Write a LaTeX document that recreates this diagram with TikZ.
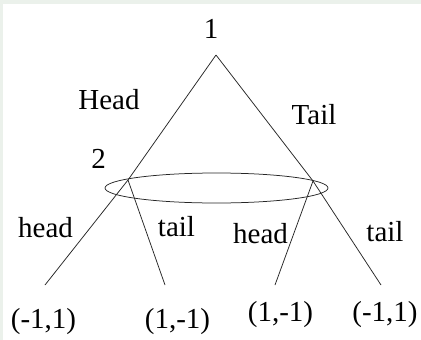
\documentclass[tikz,border=0pt]{standalone}
\usepackage{fontspec}
\setmainfont{Liberation Serif}
\begin{document}
\begin{tikzpicture}[x=1pt,y=-1pt,
  lbl/.style={anchor=base,inner sep=0pt,font=\fontsize{29}{34}\selectfont},
  edge/.style={line width=0.75pt,draw=black!85}]
\useasboundingbox (0,0) rectangle (421,340);
\fill[white] (0,0) rectangle (421,340);
\fill[green!30!black!8!white] (0,0) rectangle (421,4);
\fill[green!30!black!8!white] (0,0) rectangle (3,340);
% decision points
\coordinate (r) at (216,55);
\coordinate (a) at (128,180);
\coordinate (b) at (313,181);
\coordinate (l1) at (45,285);
\coordinate (l2) at (165,285);
\coordinate (l3) at (275,285);
\coordinate (l4) at (381,285);
\coordinate (ec) at (216.5,188);
% labels
\node[lbl] (t1) at (211,38) {1};
\node[lbl] (tH) at (109,109) {Head};
\node[lbl] (tT) at (314,124) {Tail};
\node[lbl] (t2) at (98.5,168) {2};
\node[lbl] (h1) at (45.5,237) {head};
\node[lbl] (s1) at (176.5,236) {tail};
\node[lbl] (h2) at (260.5,243) {head};
\node[lbl] (s2) at (385,241) {tail};
\node[lbl] (p1) at (43.5,328) {(-1,1)};
\node[lbl] (p2) at (177.5,328) {(1,-1)};
\node[lbl] (p3) at (280.5,321) {(1,-1)};
\node[lbl] (p4) at (385,321) {(-1,1)};
% edges
\draw[edge] (r) -- (a) -- (l1);
\draw[edge] (a) -- (l2);
\draw[edge] (r) -- (b) -- (l4);
\draw[edge] (b) -- (l3);
\draw[edge] (ec) ellipse [x radius=111.5, y radius=15];
\end{tikzpicture}
\end{document}
